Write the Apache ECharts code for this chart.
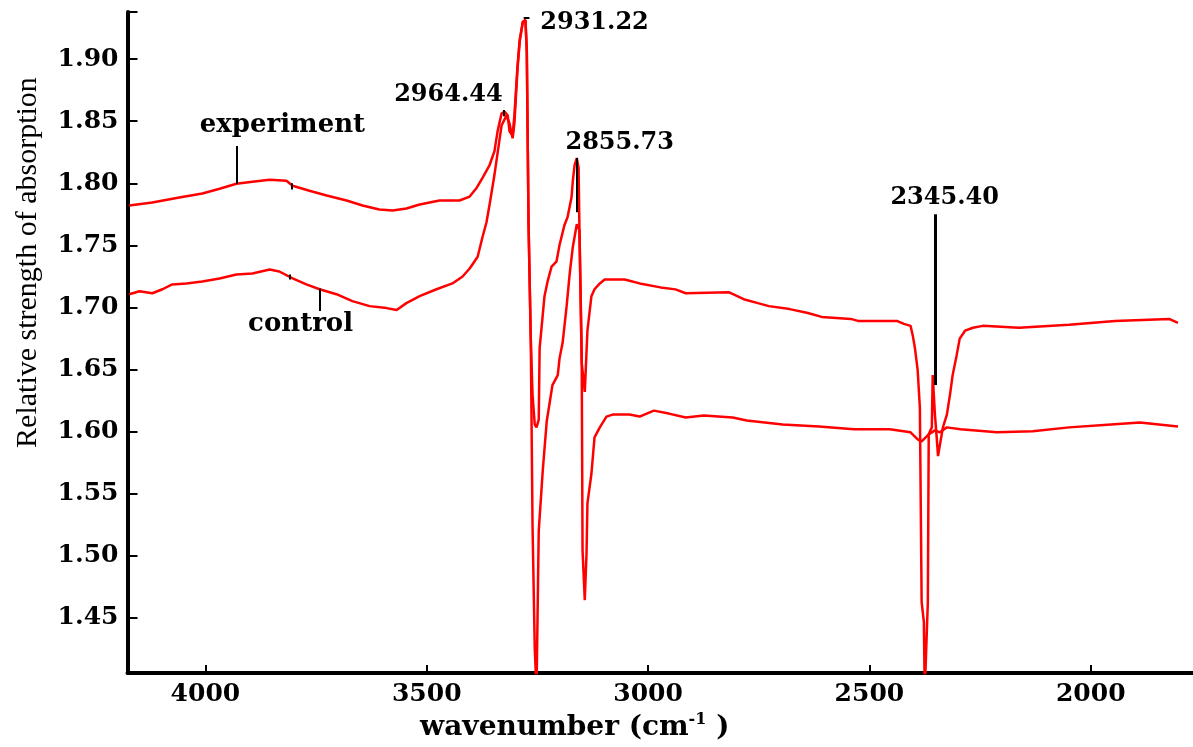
<!DOCTYPE html>
<html>
<head>
<meta charset="utf-8">
<script src="https://cdn.jsdelivr.net/npm/echarts@6/dist/echarts.min.js"></script>
<style>
html,body{margin:0;padding:0;background:#fff;}
#chart{width:1193px;height:747px;}
</style>
</head>
<body>
<div id="chart"></div>
<script>
// ---- data (wavenumber in cm-1 as printed on the axis, relative absorption) ----
const experimentWavenumber = [4172, 4120, 4059, 4007, 3968, 3930, 3894, 3855, 3817, 3803,
  3765, 3726, 3681, 3645, 3607, 3577, 3546, 3516, 3471, 3426,
  3403, 3387, 3374, 3358, 3347, 3340, 3331, 3324, 3317, 3313,
  3306, 3302, 3295, 3290, 3283, 3277, 3274, 3270, 3265, 3261,
  3256, 3252, 3247, 3238, 3229, 3222, 3216, 3204, 3200, 3193,
  3184, 3177, 3170, 3161, 3155, 3150, 3143, 3137, 3128, 3121,
  3109, 3098, 3053, 3019, 2972, 2938, 2915, 2818, 2784, 2752,
  2727, 2680, 2639, 2608, 2542, 2526, 2438, 2422, 2407, 2402,
  2397, 2391, 2386, 2382, 2377, 2375, 2368, 2366, 2359, 2357,
  2352, 2348, 2345, 2334, 2325, 2318, 2312, 2303, 2296, 2284,
  2266, 2244, 2162, 2049, 1945, 1823, 1803];
const experimentAbsorption = [1.782, 1.7845, 1.7885, 1.7917, 1.7956, 1.7996, 1.8012, 1.8028, 1.802, 1.798,
  1.794, 1.7901, 1.7861, 1.7821, 1.7789, 1.7781, 1.7797, 1.7829, 1.7861, 1.7861,
  1.7893, 1.7964, 1.8044, 1.8147, 1.8259, 1.8418, 1.8561, 1.8577, 1.8545, 1.8418,
  1.8386, 1.8545, 1.8942, 1.9157, 1.93, 1.9316, 1.9061, 1.767, 1.6748, 1.5237,
  1.4251, 1.391, 1.5198, 1.5683, 1.608, 1.6239, 1.6374, 1.6454, 1.6589, 1.6716,
  1.701, 1.7273, 1.7487, 1.767, 1.7622, 1.6557, 1.6319, 1.6812, 1.709, 1.7146,
  1.7193, 1.7225, 1.7225, 1.7193, 1.7161, 1.7145, 1.7114, 1.7122, 1.7066, 1.7034,
  1.701, 1.6986, 1.6955, 1.6923, 1.6907, 1.6891, 1.6891, 1.6867, 1.6851, 1.6772,
  1.6668, 1.6494, 1.6191, 1.4625, 1.4466, 1.39, 1.4625, 1.5977, 1.6033, 1.6454,
  1.6136, 1.5953, 1.5802, 1.6033, 1.6136, 1.6295, 1.6454, 1.6613, 1.6748, 1.6812,
  1.6836, 1.6851, 1.6836, 1.6859, 1.6891, 1.6907, 1.6875];

const controlWavenumber = [4172, 4149, 4120, 4097, 4075, 4043, 4007, 3968, 3930, 3894,
  3855, 3833, 3803, 3772, 3742, 3704, 3668, 3629, 3591, 3568,
  3546, 3516, 3478, 3442, 3419, 3403, 3385, 3374, 3365, 3358,
  3347, 3340, 3331, 3320, 3313, 3306, 3302, 3295, 3290, 3283,
  3277, 3274, 3270, 3265, 3261, 3256, 3252, 3247, 3245, 3234,
  3227, 3218, 3207, 3200, 3189, 3182, 3173, 3170, 3166, 3161,
  3157, 3155, 3150, 3148, 3143, 3139, 3137, 3128, 3121, 3109,
  3094, 3080, 3042, 3019, 2987, 2953, 2915, 2874, 2809, 2777,
  2696, 2614, 2535, 2454, 2407, 2391, 2382, 2366, 2352, 2341,
  2325, 2294, 2212, 2131, 2049, 1954, 1889, 1803];
const controlAbsorption = [1.7106, 1.713, 1.7114, 1.7146, 1.7185, 1.7193, 1.7209, 1.7233, 1.7265, 1.7273,
  1.7305, 1.7289, 1.7233, 1.7185, 1.7146, 1.7106, 1.705, 1.701, 1.6994, 1.6979,
  1.7034, 1.709, 1.7146, 1.7193, 1.7249, 1.7313, 1.7408, 1.7567, 1.7686, 1.7829,
  1.8068, 1.8243, 1.8465, 1.8545, 1.8481, 1.8362, 1.8481, 1.8918, 1.9141, 1.93,
  1.9316, 1.9077, 1.767, 1.6748, 1.6295, 1.6056, 1.6033, 1.6096, 1.6669, 1.709,
  1.7209, 1.7328, 1.7368, 1.7503, 1.7662, 1.7726, 1.7885, 1.802, 1.8147, 1.8203,
  1.8123, 1.7622, 1.6637, 1.5039, 1.4641, 1.5023, 1.542, 1.5659, 1.5953, 1.6033,
  1.612, 1.6136, 1.6136, 1.612, 1.6168, 1.6144, 1.6112, 1.6128, 1.6112, 1.6088,
  1.6056, 1.604, 1.6017, 1.6017, 1.5993, 1.5937, 1.5921, 1.5977, 1.6009, 1.5993,
  1.6033, 1.6017, 1.5993, 1.6001, 1.6033, 1.6056, 1.6072, 1.604];

const xTickValues = [4000, 3500, 3000, 2500, 2000];
const yTickValues = [1.45, 1.50, 1.55, 1.60, 1.65, 1.70, 1.75, 1.80, 1.85, 1.90];
const xRange = [1769, 4176];
const yRange = [1.4053, 1.938];

const xTitle = 'wavenumber (cm';
const xTitleSup = '-1';
const yTitle = 'Relative strength of absorption';

// annotation texts and anchors (data coordinates)
const peakLabels = ['2964.44', '2931.22', '2855.73', '2345.40'];
const peakLabelAnchors = [[3451, 1.871], [3121, 1.929], [3064, 1.833], [2330, 1.7885]];
const seriesLabels = ['experiment', 'control'];
const seriesLabelAnchors = [[3826, 1.847], [3785, 1.686]];
const leaderLines = [
  [[3930, 1.830], [3930, 1.7996]],
  [[3805, 1.800], [3805, 1.795]],
  [[3742, 1.7153], [3742, 1.6971]],
  [[3810, 1.7265], [3810, 1.7225]],
  [[3326, 1.859], [3326, 1.854]],
  [[3281, 1.9335], [3268, 1.9335]],
  [[3161, 1.8203], [3161, 1.7766]],
  [[2352, 1.775], [2352, 1.6374]]
];

function zip(a, b) { return a.map((v, i) => [v, b[i]]); }

const serif = 'DejaVu Serif';
const chart = echarts.init(document.getElementById('chart'), null, {renderer: 'canvas'});

const markPointData = [];
peakLabels.forEach((t, i) => markPointData.push({name: t, coord: peakLabelAnchors[i]}));
seriesLabels.forEach((t, i) => markPointData.push({name: t, coord: seriesLabelAnchors[i], label: {fontSize: 26}}));

const option = {
  animation: false,
  backgroundColor: '#ffffff',
  grid: {left: 127.5, right: 0, top: 12, bottom: 65, containLabel: false},
  xAxis: {
    type: 'value', inverse: true, min: xRange[0], max: xRange[1],
    axisLine: {show: true, onZero: false, lineStyle: {color: '#000', width: 4}},
    axisTick: {show: true, inside: true, length: 8, customValues: xTickValues, lineStyle: {color: '#000', width: 2}},
    axisLabel: {customValues: xTickValues, margin: 9, color: '#000', fontFamily: serif, fontWeight: 'bold', fontSize: 25,
      formatter: v => String(v)},
    splitLine: {show: false},
    name: '{t|' + xTitle + '}{s|' + xTitleSup + '}{t| )}',
    nameLocation: 'middle', nameGap: 34,
    nameTextStyle: {padding: [0, 171, 0, 0],
      rich: {
        t: {fontFamily: serif, fontWeight: 'bold', fontSize: 28, color: '#000', lineHeight: 32},
        s: {fontFamily: serif, fontWeight: 'bold', fontSize: 16, color: '#000', verticalAlign: 'top', lineHeight: 17}
      }}
  },
  yAxis: {
    type: 'value', min: yRange[0], max: yRange[1],
    axisLine: {show: true, onZero: false, lineStyle: {color: '#000', width: 4}},
    axisTick: {show: true, inside: true, length: 10, customValues: yTickValues.concat([yRange[1]]), lineStyle: {color: '#000', width: 2}},
    axisLabel: {customValues: yTickValues, margin: 9, color: '#000', fontFamily: serif, fontWeight: 'bold', fontSize: 25,
      formatter: v => v.toFixed(2)},
    splitLine: {show: false},
    name: yTitle, nameLocation: 'middle', nameGap: 84,
    nameTextStyle: {fontFamily: 'Liberation Serif', fontSize: 30, color: '#000', padding: [0, 0, 0, 160]}
  },
  series: [
    {
      name: 'experiment', type: 'line', data: zip(experimentWavenumber, experimentAbsorption),
      showSymbol: false, symbol: 'none', clip: true,
      lineStyle: {color: '#ff0000', width: 2.5}, z: 3,
      markPoint: {
        silent: true, symbol: 'circle', symbolSize: 1, itemStyle: {color: 'rgba(0,0,0,0)'},
        label: {show: true, position: 'inside', color: '#000', fontFamily: serif, fontWeight: 'bold', fontSize: 24,
          formatter: p => p.name},
        data: markPointData
      },
      markLine: {
        silent: true, symbol: ['none', 'none'], label: {show: false},
        lineStyle: {color: '#000', width: 2, type: 'solid'},
        data: leaderLines.map((l, i) => [
          {coord: l[0], lineStyle: {width: i === 7 ? 3 : 2}},
          {coord: l[1]}
        ])
      }
    },
    {
      name: 'control', type: 'line', data: zip(controlWavenumber, controlAbsorption),
      showSymbol: false, symbol: 'none', clip: true,
      lineStyle: {color: '#ff0000', width: 2.5}, z: 2
    }
  ]
};
chart.setOption(option);
</script>
</body>
</html>
